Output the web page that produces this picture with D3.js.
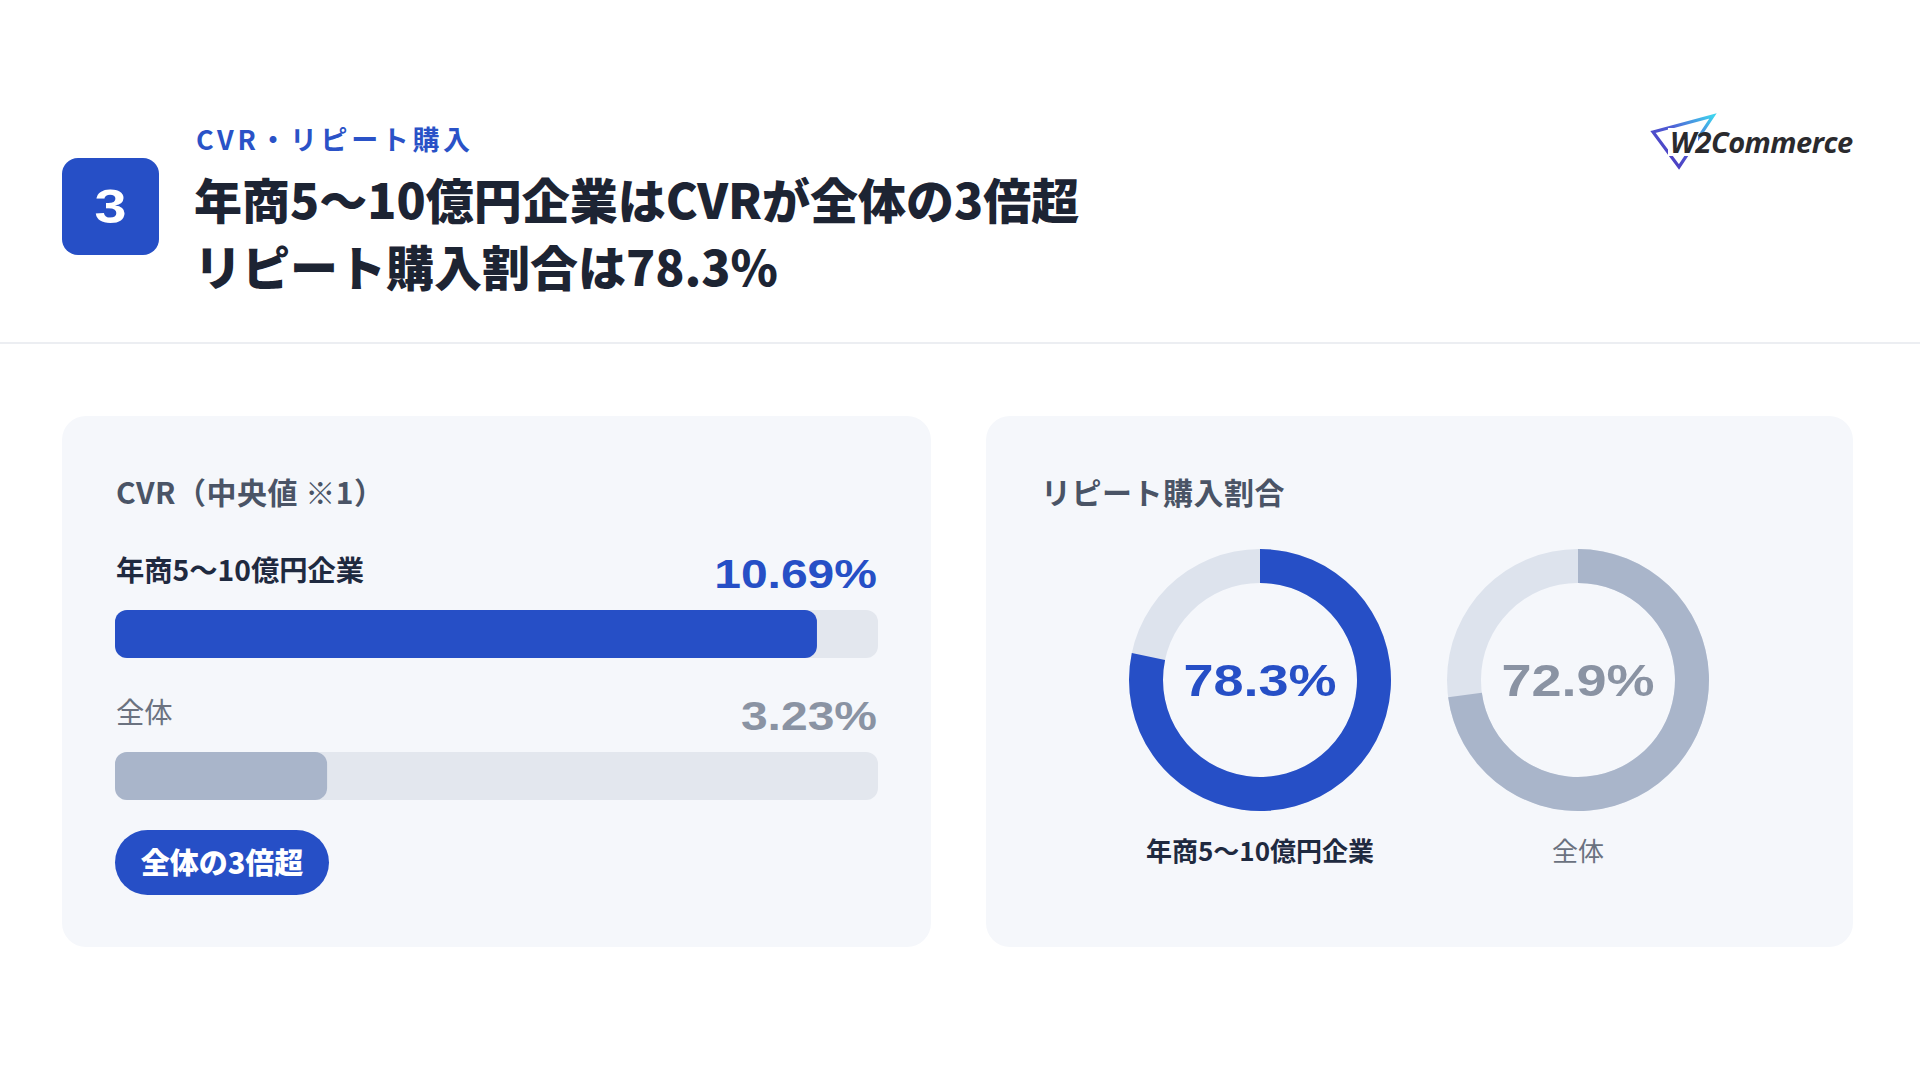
<!DOCTYPE html>
<html>
<head>
<meta charset="utf-8">
<script src="https://cdn.jsdelivr.net/npm/d3@7"></script>
<style>
  html, body { margin: 0; padding: 0; background: #ffffff; }
  svg { display: block; }
  .jp { font-family: "Noto Sans CJK JP", "Noto Sans", sans-serif; }
  .num { font-family: "Liberation Sans", Arial, sans-serif; font-weight: 700; }
</style>
</head>
<body>
<svg id="chart"></svg>
<script>
// ---- data ----
var sectionNo = "3";
var sectionTag = "CVR・リピート購入";
var titleLines = ["年商5～10億円企業はCVRが全体の3倍超", "リピート購入割合は78.3%"];

var cvrTitle = "CVR（中央値 ※1）";
var cvrLabels = ["年商5～10億円企業", "全体"];
var cvrValues = [10.69, 3.23];
var cvrBadge = "全体の3倍超";

var repeatTitle = "リピート購入割合";
var repeatLabels = ["年商5～10億円企業", "全体"];
var repeatValues = [78.3, 72.9];

const colors = {
  blue: "#264fc6",
  gray: "#a9b5ca",
  track: "#e3e7ee",
  ring: "#dde3ed",
  card: "#f5f7fb",
  title: "#1d2433",
  label: "#1f2a40",
  sub: "#4a5466",
  muted: "#6b7280",
  numGray: "#8a93a3"
};

const W = 1920, H = 1080;
const numScale = 1.2; // the value font is wider than Arial

var svg = d3.select("#chart").attr("width", W).attr("height", H);
svg.append("rect").attr("width", W).attr("height", H).attr("fill", "#fff");

// number text helper (horizontally widened)
function numText(g, x, y, txt, size, fill, anchor) {
  g.append("g")
    .attr("transform", "translate(" + x + "," + y + ") scale(" + numScale + ",1)")
    .append("text")
    .attr("class", "num")
    .attr("text-anchor", anchor || "end")
    .attr("font-size", size)
    .attr("fill", fill)
    .text(txt);
}

// ---- header ----
var head = svg.append("g");
head.append("rect")
  .attr("x", 62).attr("y", 158).attr("width", 97).attr("height", 97)
  .attr("rx", 16).attr("fill", colors.blue);
numText(head, 110.5, 223, sectionNo, 48, "#fff", "middle");

head.append("text").attr("class", "jp")
  .attr("x", 196).attr("y", 150)
  .attr("font-size", 27).attr("font-weight", 700)
  .attr("letter-spacing", 3.6)
  .attr("fill", "#2a52c7")
  .text(sectionTag);

head.selectAll(".title")
  .data(titleLines)
  .enter()
  .append("text")
  .attr("class", "jp title")
  .attr("x", 194)
  .attr("y", (d, i) => 219 + i * 67)
  .attr("font-size", 48)
  .attr("font-weight", 900)
  .attr("fill", colors.title)
  .text((d) => d);

// logo
var defs = svg.append("defs");
var grad = defs.append("linearGradient").attr("id", "logoGrad")
  .attr("x1", "0%").attr("y1", "100%").attr("x2", "100%").attr("y2", "0%");
grad.append("stop").attr("offset", "0%").attr("stop-color", "#4b2fb8");
grad.append("stop").attr("offset", "55%").attr("stop-color", "#4f5fd6");
grad.append("stop").attr("offset", "100%").attr("stop-color", "#3fd3ee");
var logo = svg.append("g");
logo.append("path")
  .attr("d", "M1653,132 L1713,116 L1679,167 Z")
  .attr("fill", "none")
  .attr("stroke", "url(#logoGrad)")
  .attr("stroke-width", 3.2)
  .attr("stroke-linejoin", "miter");
logo.append("rect")
  .attr("x", 1668).attr("y", 128).attr("width", 30).attr("height", 28)
  .attr("fill", "#fff");
logo.append("text")
  .attr("x", 1670).attr("y", 153)
  .attr("font-family", "'Open Sans', 'Liberation Sans', sans-serif")
  .attr("font-style", "italic")
  .attr("font-weight", 700)
  .attr("font-size", 29)
  .attr("letter-spacing", -0.5)
  .attr("fill", "#2a2a2e")
  .text("W2Commerce");

// separator
svg.append("line")
  .attr("x1", 0).attr("x2", W).attr("y1", 343).attr("y2", 343)
  .attr("stroke", "#eceef2").attr("stroke-width", 2);

// ---- cards ----
var cards = [{x: 62, w: 869}, {x: 986, w: 867}];
svg.selectAll(".card")
  .data(cards)
  .enter()
  .append("rect")
  .attr("class", "card")
  .attr("x", (d) => d.x).attr("y", 416)
  .attr("width", (d) => d.w).attr("height", 531)
  .attr("rx", 24)
  .attr("fill", colors.card);

// ---- left card: CVR bars ----
var left = svg.append("g");
left.append("text").attr("class", "jp")
  .attr("x", 116).attr("y", 504)
  .attr("font-size", 30).attr("font-weight", 700)
  .attr("letter-spacing", 0.5)
  .attr("fill", colors.sub)
  .text(cvrTitle);

var trackX = 115, trackW = 763, barH = 48;

var x = d3.scaleLinear()
  .domain([0, d3.max(cvrValues) / 0.92])
  .range([0, trackW]);

var rowY = d3.scalePoint()
  .domain(cvrLabels)
  .range([610, 752]);

var rows = left.selectAll(".row")
  .data(cvrLabels.map((d, i) => ({label: d, value: cvrValues[i], i: i})))
  .enter()
  .append("g")
  .attr("class", "row");

rows.append("rect")
  .attr("x", trackX)
  .attr("y", (d) => rowY(d.label))
  .attr("width", trackW)
  .attr("height", barH)
  .attr("rx", 12)
  .attr("fill", colors.track);

rows.append("rect")
  .attr("x", trackX)
  .attr("y", (d) => rowY(d.label))
  .attr("width", (d) => x(d.value))
  .attr("height", barH)
  .attr("rx", 12)
  .attr("fill", (d) => d.i === 0 ? colors.blue : colors.gray);

rows.append("text").attr("class", "jp")
  .attr("x", 116)
  .attr("y", (d) => rowY(d.label) - 29)
  .attr("font-size", 28.3)
  .attr("font-weight", (d) => d.i === 0 ? 700 : 400)
  .attr("fill", (d) => d.i === 0 ? colors.label : colors.muted)
  .text((d) => d.label);

rows.each(function(d) {
  numText(d3.select(this), 877, rowY(d.label) - 22, d.value.toFixed(2) + "%", 40,
    d.i === 0 ? colors.blue : colors.numGray, "end");
});

// pill
left.append("rect")
  .attr("x", 115).attr("y", 830).attr("width", 214).attr("height", 65)
  .attr("rx", 32.5).attr("fill", colors.blue);
left.append("text").attr("class", "jp")
  .attr("x", 222).attr("y", 874)
  .attr("text-anchor", "middle")
  .attr("font-size", 29).attr("font-weight", 900)
  .attr("fill", "#fff")
  .text(cvrBadge);

// ---- right card: repeat donuts ----
var right = svg.append("g");
right.append("text").attr("class", "jp")
  .attr("x", 1041).attr("y", 504)
  .attr("font-size", 30).attr("font-weight", 700)
  .attr("letter-spacing", 0.5)
  .attr("fill", colors.sub)
  .text(repeatTitle);

var cx = d3.scalePoint().domain(repeatLabels).range([1260, 1578]);
var cy = 680;
var arc = d3.arc().innerRadius(97).outerRadius(131);
var angle = d3.scaleLinear().domain([0, 100]).range([0, 2 * Math.PI]);

var donuts = right.selectAll(".donut")
  .data(repeatLabels.map((d, i) => ({label: d, value: repeatValues[i], i: i})))
  .enter()
  .append("g")
  .attr("class", "donut")
  .attr("transform", (d) => "translate(" + cx(d.label) + "," + cy + ")");

donuts.append("path")
  .attr("d", arc({startAngle: 0, endAngle: 2 * Math.PI}))
  .attr("fill", colors.ring);

donuts.append("path")
  .attr("d", (d) => arc({startAngle: 0, endAngle: angle(d.value)}))
  .attr("fill", (d) => d.i === 0 ? colors.blue : colors.gray);

donuts.each(function(d) {
  numText(d3.select(this), 0, 16, d.value.toFixed(1) + "%", 45,
    d.i === 0 ? colors.blue : colors.numGray, "middle");
});

donuts.append("text").attr("class", "jp")
  .attr("x", 0).attr("y", 861 - cy)
  .attr("text-anchor", "middle")
  .attr("font-size", 26)
  .attr("font-weight", (d) => d.i === 0 ? 700 : 400)
  .attr("fill", (d) => d.i === 0 ? colors.label : colors.muted)
  .text((d) => d.label);
</script>
</body>
</html>
